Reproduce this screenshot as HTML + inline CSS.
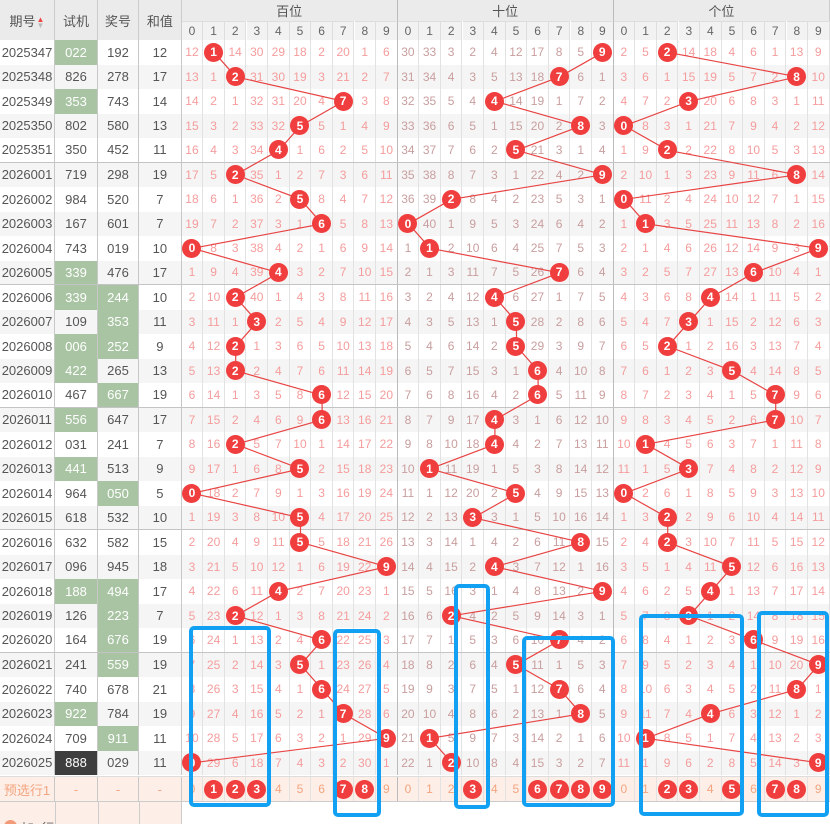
<!DOCTYPE html>
<html><head><meta charset="utf-8">
<style>
*{margin:0;padding:0;box-sizing:border-box}
body{width:830px;height:824px;overflow:hidden;background:#fff;font-family:"Liberation Sans","Noto Sans CJK SC",sans-serif;position:relative}
.h{position:absolute;background:#ebebeb;color:#555;font-size:13px;display:flex;align-items:center;justify-content:center;border-right:1px solid #ccc}
.hd{position:absolute;top:21px;height:19px;width:21.6px;background:#f2f2f2;color:#666;font-size:12px;display:flex;align-items:center;justify-content:center;border-right:1px solid #ddd;border-top:1px solid #ddd}
#d{position:absolute;left:0;top:40px;width:830px}
.r{display:grid;grid-template-columns:55px 43px 41px 42.7px repeat(30,21.6px);height:24.5px}
#d .r:nth-child(even){background:#f5f5f5}
.r.sep{border-bottom:1px solid #c4c4c4}
c{display:flex;align-items:center;justify-content:center;font-size:12px;color:#f59c9c;border-right:1px solid #e2e2e2;position:relative;height:100%}
c:nth-child(-n+4){font-size:13px;color:#555;border-right:1px solid #c8c8c8}
c:nth-child(n+15):nth-child(-n+24){color:#c99e9e}
c:nth-child(14),c:nth-child(24){border-right:1px solid #bbb}
c.g{background:#a8c4a2;color:#fff}
c.k{background:#3e3e3e;color:#fff}
i{position:absolute;left:50%;top:50%;width:19px;height:19px;margin:-9.5px 0 0 -9.5px;border-radius:50%;background:#f03d3d;color:#fff;font-style:normal;font-weight:bold;font-size:12px;display:flex;align-items:center;justify-content:center;z-index:3}
#p{position:absolute;left:0;top:776px;width:830px;height:26px;background:#fdeee8;border-top:1px solid #ddd;border-bottom:1px solid #ccc}
#p.r{height:26px}
#p c{color:#f3a57f}
#p c:nth-child(-n+4){color:#f3a57f;font-size:13px}
svg{position:absolute;left:0;top:0}
</style></head><body>
<div class="h" style="left:0;top:0;width:55px;height:40px">期号<span style="font-size:8px;line-height:6px;margin-left:1px;color:#e44"><br>▲<br><span style="color:#bbb">▼</span></span></div>
<div class="h" style="left:55px;top:0;width:43px;height:40px">试机</div>
<div class="h" style="left:98px;top:0;width:41px;height:40px">奖号</div>
<div class="h" style="left:139px;top:0;width:42.7px;height:40px">和值</div>
<div class="h" style="left:181.7px;top:0;width:216px;height:21px;border-right:1px solid #bbb">百位</div>
<div class="h" style="left:397.7px;top:0;width:216px;height:21px;border-right:1px solid #bbb">十位</div>
<div class="h" style="left:613.7px;top:0;width:216.3px;height:21px">个位</div>
<div class="hd" style="left:181.7px">0</div><div class="hd" style="left:203.3px">1</div><div class="hd" style="left:224.9px">2</div><div class="hd" style="left:246.5px">3</div><div class="hd" style="left:268.1px">4</div><div class="hd" style="left:289.7px">5</div><div class="hd" style="left:311.3px">6</div><div class="hd" style="left:332.9px">7</div><div class="hd" style="left:354.5px">8</div><div class="hd" style="left:376.1px;border-right-color:#bbb">9</div>
<div class="hd" style="left:397.7px">0</div><div class="hd" style="left:419.3px">1</div><div class="hd" style="left:440.9px">2</div><div class="hd" style="left:462.5px">3</div><div class="hd" style="left:484.1px">4</div><div class="hd" style="left:505.7px">5</div><div class="hd" style="left:527.3px">6</div><div class="hd" style="left:548.9px">7</div><div class="hd" style="left:570.5px">8</div><div class="hd" style="left:592.1px;border-right-color:#bbb">9</div>
<div class="hd" style="left:613.7px">0</div><div class="hd" style="left:635.3px">1</div><div class="hd" style="left:656.9px">2</div><div class="hd" style="left:678.5px">3</div><div class="hd" style="left:700.1px">4</div><div class="hd" style="left:721.7px">5</div><div class="hd" style="left:743.3px">6</div><div class="hd" style="left:764.9px">7</div><div class="hd" style="left:786.5px">8</div><div class="hd" style="left:808.1px">9</div>

<div id="d">
<div class="r"><c>2025347</c><c class="g">022</c><c>192</c><c>12</c><c>12</c><c><i>1</i></c><c>14</c><c>30</c><c>29</c><c>18</c><c>2</c><c>20</c><c>1</c><c>6</c><c>30</c><c>33</c><c>3</c><c>2</c><c>4</c><c>12</c><c>17</c><c>8</c><c>5</c><c><i>9</i></c><c>2</c><c>5</c><c><i>2</i></c><c>14</c><c>18</c><c>4</c><c>6</c><c>1</c><c>13</c><c>9</c></div>
<div class="r"><c>2025348</c><c>826</c><c>278</c><c>17</c><c>13</c><c>1</c><c><i>2</i></c><c>31</c><c>30</c><c>19</c><c>3</c><c>21</c><c>2</c><c>7</c><c>31</c><c>34</c><c>4</c><c>3</c><c>5</c><c>13</c><c>18</c><c><i>7</i></c><c>6</c><c>1</c><c>3</c><c>6</c><c>1</c><c>15</c><c>19</c><c>5</c><c>7</c><c>2</c><c><i>8</i></c><c>10</c></div>
<div class="r"><c>2025349</c><c class="g">353</c><c>743</c><c>14</c><c>14</c><c>2</c><c>1</c><c>32</c><c>31</c><c>20</c><c>4</c><c><i>7</i></c><c>3</c><c>8</c><c>32</c><c>35</c><c>5</c><c>4</c><c><i>4</i></c><c>14</c><c>19</c><c>1</c><c>7</c><c>2</c><c>4</c><c>7</c><c>2</c><c><i>3</i></c><c>20</c><c>6</c><c>8</c><c>3</c><c>1</c><c>11</c></div>
<div class="r"><c>2025350</c><c>802</c><c>580</c><c>13</c><c>15</c><c>3</c><c>2</c><c>33</c><c>32</c><c><i>5</i></c><c>5</c><c>1</c><c>4</c><c>9</c><c>33</c><c>36</c><c>6</c><c>5</c><c>1</c><c>15</c><c>20</c><c>2</c><c><i>8</i></c><c>3</c><c><i>0</i></c><c>8</c><c>3</c><c>1</c><c>21</c><c>7</c><c>9</c><c>4</c><c>2</c><c>12</c></div>
<div class="r sep"><c>2025351</c><c>350</c><c>452</c><c>11</c><c>16</c><c>4</c><c>3</c><c>34</c><c><i>4</i></c><c>1</c><c>6</c><c>2</c><c>5</c><c>10</c><c>34</c><c>37</c><c>7</c><c>6</c><c>2</c><c><i>5</i></c><c>21</c><c>3</c><c>1</c><c>4</c><c>1</c><c>9</c><c><i>2</i></c><c>2</c><c>22</c><c>8</c><c>10</c><c>5</c><c>3</c><c>13</c></div>
<div class="r"><c>2026001</c><c>719</c><c>298</c><c>19</c><c>17</c><c>5</c><c><i>2</i></c><c>35</c><c>1</c><c>2</c><c>7</c><c>3</c><c>6</c><c>11</c><c>35</c><c>38</c><c>8</c><c>7</c><c>3</c><c>1</c><c>22</c><c>4</c><c>2</c><c><i>9</i></c><c>2</c><c>10</c><c>1</c><c>3</c><c>23</c><c>9</c><c>11</c><c>6</c><c><i>8</i></c><c>14</c></div>
<div class="r"><c>2026002</c><c>984</c><c>520</c><c>7</c><c>18</c><c>6</c><c>1</c><c>36</c><c>2</c><c><i>5</i></c><c>8</c><c>4</c><c>7</c><c>12</c><c>36</c><c>39</c><c><i>2</i></c><c>8</c><c>4</c><c>2</c><c>23</c><c>5</c><c>3</c><c>1</c><c><i>0</i></c><c>11</c><c>2</c><c>4</c><c>24</c><c>10</c><c>12</c><c>7</c><c>1</c><c>15</c></div>
<div class="r"><c>2026003</c><c>167</c><c>601</c><c>7</c><c>19</c><c>7</c><c>2</c><c>37</c><c>3</c><c>1</c><c><i>6</i></c><c>5</c><c>8</c><c>13</c><c><i>0</i></c><c>40</c><c>1</c><c>9</c><c>5</c><c>3</c><c>24</c><c>6</c><c>4</c><c>2</c><c>1</c><c><i>1</i></c><c>3</c><c>5</c><c>25</c><c>11</c><c>13</c><c>8</c><c>2</c><c>16</c></div>
<div class="r"><c>2026004</c><c>743</c><c>019</c><c>10</c><c><i>0</i></c><c>8</c><c>3</c><c>38</c><c>4</c><c>2</c><c>1</c><c>6</c><c>9</c><c>14</c><c>1</c><c><i>1</i></c><c>2</c><c>10</c><c>6</c><c>4</c><c>25</c><c>7</c><c>5</c><c>3</c><c>2</c><c>1</c><c>4</c><c>6</c><c>26</c><c>12</c><c>14</c><c>9</c><c>3</c><c><i>9</i></c></div>
<div class="r sep"><c>2026005</c><c class="g">339</c><c>476</c><c>17</c><c>1</c><c>9</c><c>4</c><c>39</c><c><i>4</i></c><c>3</c><c>2</c><c>7</c><c>10</c><c>15</c><c>2</c><c>1</c><c>3</c><c>11</c><c>7</c><c>5</c><c>26</c><c><i>7</i></c><c>6</c><c>4</c><c>3</c><c>2</c><c>5</c><c>7</c><c>27</c><c>13</c><c><i>6</i></c><c>10</c><c>4</c><c>1</c></div>
<div class="r"><c>2026006</c><c class="g">339</c><c class="g">244</c><c>10</c><c>2</c><c>10</c><c><i>2</i></c><c>40</c><c>1</c><c>4</c><c>3</c><c>8</c><c>11</c><c>16</c><c>3</c><c>2</c><c>4</c><c>12</c><c><i>4</i></c><c>6</c><c>27</c><c>1</c><c>7</c><c>5</c><c>4</c><c>3</c><c>6</c><c>8</c><c><i>4</i></c><c>14</c><c>1</c><c>11</c><c>5</c><c>2</c></div>
<div class="r"><c>2026007</c><c>109</c><c class="g">353</c><c>11</c><c>3</c><c>11</c><c>1</c><c><i>3</i></c><c>2</c><c>5</c><c>4</c><c>9</c><c>12</c><c>17</c><c>4</c><c>3</c><c>5</c><c>13</c><c>1</c><c><i>5</i></c><c>28</c><c>2</c><c>8</c><c>6</c><c>5</c><c>4</c><c>7</c><c><i>3</i></c><c>1</c><c>15</c><c>2</c><c>12</c><c>6</c><c>3</c></div>
<div class="r"><c>2026008</c><c class="g">006</c><c class="g">252</c><c>9</c><c>4</c><c>12</c><c><i>2</i></c><c>1</c><c>3</c><c>6</c><c>5</c><c>10</c><c>13</c><c>18</c><c>5</c><c>4</c><c>6</c><c>14</c><c>2</c><c><i>5</i></c><c>29</c><c>3</c><c>9</c><c>7</c><c>6</c><c>5</c><c><i>2</i></c><c>1</c><c>2</c><c>16</c><c>3</c><c>13</c><c>7</c><c>4</c></div>
<div class="r"><c>2026009</c><c class="g">422</c><c>265</c><c>13</c><c>5</c><c>13</c><c><i>2</i></c><c>2</c><c>4</c><c>7</c><c>6</c><c>11</c><c>14</c><c>19</c><c>6</c><c>5</c><c>7</c><c>15</c><c>3</c><c>1</c><c><i>6</i></c><c>4</c><c>10</c><c>8</c><c>7</c><c>6</c><c>1</c><c>2</c><c>3</c><c><i>5</i></c><c>4</c><c>14</c><c>8</c><c>5</c></div>
<div class="r sep"><c>2026010</c><c>467</c><c class="g">667</c><c>19</c><c>6</c><c>14</c><c>1</c><c>3</c><c>5</c><c>8</c><c><i>6</i></c><c>12</c><c>15</c><c>20</c><c>7</c><c>6</c><c>8</c><c>16</c><c>4</c><c>2</c><c><i>6</i></c><c>5</c><c>11</c><c>9</c><c>8</c><c>7</c><c>2</c><c>3</c><c>4</c><c>1</c><c>5</c><c><i>7</i></c><c>9</c><c>6</c></div>
<div class="r"><c>2026011</c><c class="g">556</c><c>647</c><c>17</c><c>7</c><c>15</c><c>2</c><c>4</c><c>6</c><c>9</c><c><i>6</i></c><c>13</c><c>16</c><c>21</c><c>8</c><c>7</c><c>9</c><c>17</c><c><i>4</i></c><c>3</c><c>1</c><c>6</c><c>12</c><c>10</c><c>9</c><c>8</c><c>3</c><c>4</c><c>5</c><c>2</c><c>6</c><c><i>7</i></c><c>10</c><c>7</c></div>
<div class="r"><c>2026012</c><c>031</c><c>241</c><c>7</c><c>8</c><c>16</c><c><i>2</i></c><c>5</c><c>7</c><c>10</c><c>1</c><c>14</c><c>17</c><c>22</c><c>9</c><c>8</c><c>10</c><c>18</c><c><i>4</i></c><c>4</c><c>2</c><c>7</c><c>13</c><c>11</c><c>10</c><c><i>1</i></c><c>4</c><c>5</c><c>6</c><c>3</c><c>7</c><c>1</c><c>11</c><c>8</c></div>
<div class="r"><c>2026013</c><c class="g">441</c><c>513</c><c>9</c><c>9</c><c>17</c><c>1</c><c>6</c><c>8</c><c><i>5</i></c><c>2</c><c>15</c><c>18</c><c>23</c><c>10</c><c><i>1</i></c><c>11</c><c>19</c><c>1</c><c>5</c><c>3</c><c>8</c><c>14</c><c>12</c><c>11</c><c>1</c><c>5</c><c><i>3</i></c><c>7</c><c>4</c><c>8</c><c>2</c><c>12</c><c>9</c></div>
<div class="r"><c>2026014</c><c>964</c><c class="g">050</c><c>5</c><c><i>0</i></c><c>18</c><c>2</c><c>7</c><c>9</c><c>1</c><c>3</c><c>16</c><c>19</c><c>24</c><c>11</c><c>1</c><c>12</c><c>20</c><c>2</c><c><i>5</i></c><c>4</c><c>9</c><c>15</c><c>13</c><c><i>0</i></c><c>2</c><c>6</c><c>1</c><c>8</c><c>5</c><c>9</c><c>3</c><c>13</c><c>10</c></div>
<div class="r sep"><c>2026015</c><c>618</c><c>532</c><c>10</c><c>1</c><c>19</c><c>3</c><c>8</c><c>10</c><c><i>5</i></c><c>4</c><c>17</c><c>20</c><c>25</c><c>12</c><c>2</c><c>13</c><c><i>3</i></c><c>3</c><c>1</c><c>5</c><c>10</c><c>16</c><c>14</c><c>1</c><c>3</c><c><i>2</i></c><c>2</c><c>9</c><c>6</c><c>10</c><c>4</c><c>14</c><c>11</c></div>
<div class="r"><c>2026016</c><c>632</c><c>582</c><c>15</c><c>2</c><c>20</c><c>4</c><c>9</c><c>11</c><c><i>5</i></c><c>5</c><c>18</c><c>21</c><c>26</c><c>13</c><c>3</c><c>14</c><c>1</c><c>4</c><c>2</c><c>6</c><c>11</c><c><i>8</i></c><c>15</c><c>2</c><c>4</c><c><i>2</i></c><c>3</c><c>10</c><c>7</c><c>11</c><c>5</c><c>15</c><c>12</c></div>
<div class="r"><c>2026017</c><c>096</c><c>945</c><c>18</c><c>3</c><c>21</c><c>5</c><c>10</c><c>12</c><c>1</c><c>6</c><c>19</c><c>22</c><c><i>9</i></c><c>14</c><c>4</c><c>15</c><c>2</c><c><i>4</i></c><c>3</c><c>7</c><c>12</c><c>1</c><c>16</c><c>3</c><c>5</c><c>1</c><c>4</c><c>11</c><c><i>5</i></c><c>12</c><c>6</c><c>16</c><c>13</c></div>
<div class="r"><c>2026018</c><c class="g">188</c><c class="g">494</c><c>17</c><c>4</c><c>22</c><c>6</c><c>11</c><c><i>4</i></c><c>2</c><c>7</c><c>20</c><c>23</c><c>1</c><c>15</c><c>5</c><c>16</c><c>3</c><c>1</c><c>4</c><c>8</c><c>13</c><c>2</c><c><i>9</i></c><c>4</c><c>6</c><c>2</c><c>5</c><c><i>4</i></c><c>1</c><c>13</c><c>7</c><c>17</c><c>14</c></div>
<div class="r"><c>2026019</c><c>126</c><c class="g">223</c><c>7</c><c>5</c><c>23</c><c><i>2</i></c><c>12</c><c>1</c><c>3</c><c>8</c><c>21</c><c>24</c><c>2</c><c>16</c><c>6</c><c><i>2</i></c><c>4</c><c>2</c><c>5</c><c>9</c><c>14</c><c>3</c><c>1</c><c>5</c><c>7</c><c>8</c><c><i>3</i></c><c>1</c><c>2</c><c>14</c><c>8</c><c>18</c><c>15</c></div>
<div class="r sep"><c>2026020</c><c>164</c><c class="g">676</c><c>19</c><c>6</c><c>24</c><c>1</c><c>13</c><c>2</c><c>4</c><c><i>6</i></c><c>22</c><c>25</c><c>3</c><c>17</c><c>7</c><c>1</c><c>5</c><c>3</c><c>6</c><c>10</c><c><i>7</i></c><c>4</c><c>2</c><c>6</c><c>8</c><c>4</c><c>1</c><c>2</c><c>3</c><c><i>6</i></c><c>9</c><c>19</c><c>16</c></div>
<div class="r"><c>2026021</c><c>241</c><c class="g">559</c><c>19</c><c>7</c><c>25</c><c>2</c><c>14</c><c>3</c><c><i>5</i></c><c>1</c><c>23</c><c>26</c><c>4</c><c>18</c><c>8</c><c>2</c><c>6</c><c>4</c><c><i>5</i></c><c>11</c><c>1</c><c>5</c><c>3</c><c>7</c><c>9</c><c>5</c><c>2</c><c>3</c><c>4</c><c>1</c><c>10</c><c>20</c><c><i>9</i></c></div>
<div class="r"><c>2026022</c><c>740</c><c>678</c><c>21</c><c>8</c><c>26</c><c>3</c><c>15</c><c>4</c><c>1</c><c><i>6</i></c><c>24</c><c>27</c><c>5</c><c>19</c><c>9</c><c>3</c><c>7</c><c>5</c><c>1</c><c>12</c><c><i>7</i></c><c>6</c><c>4</c><c>8</c><c>10</c><c>6</c><c>3</c><c>4</c><c>5</c><c>2</c><c>11</c><c><i>8</i></c><c>1</c></div>
<div class="r"><c>2026023</c><c class="g">922</c><c>784</c><c>19</c><c>9</c><c>27</c><c>4</c><c>16</c><c>5</c><c>2</c><c>1</c><c><i>7</i></c><c>28</c><c>6</c><c>20</c><c>10</c><c>4</c><c>8</c><c>6</c><c>2</c><c>13</c><c>1</c><c><i>8</i></c><c>5</c><c>9</c><c>11</c><c>7</c><c>4</c><c><i>4</i></c><c>6</c><c>3</c><c>12</c><c>1</c><c>2</c></div>
<div class="r"><c>2026024</c><c>709</c><c class="g">911</c><c>11</c><c>10</c><c>28</c><c>5</c><c>17</c><c>6</c><c>3</c><c>2</c><c>1</c><c>29</c><c><i>9</i></c><c>21</c><c><i>1</i></c><c>5</c><c>9</c><c>7</c><c>3</c><c>14</c><c>2</c><c>1</c><c>6</c><c>10</c><c><i>1</i></c><c>8</c><c>5</c><c>1</c><c>7</c><c>4</c><c>13</c><c>2</c><c>3</c></div>
<div class="r"><c>2026025</c><c class="k">888</c><c>029</c><c>11</c><c><i>0</i></c><c>29</c><c>6</c><c>18</c><c>7</c><c>4</c><c>3</c><c>2</c><c>30</c><c>1</c><c>22</c><c>1</c><c><i>2</i></c><c>10</c><c>8</c><c>4</c><c>15</c><c>3</c><c>2</c><c>7</c><c>11</c><c>1</c><c>9</c><c>6</c><c>2</c><c>8</c><c>5</c><c>14</c><c>3</c><c><i>9</i></c></div>
</div>
<div id="p" class="r"><c>预选行1</c><c>-</c><c>-</c><c>-</c><c>0</c><c><i>1</i></c><c><i>2</i></c><c><i>3</i></c><c>4</c><c>5</c><c>6</c><c><i>7</i></c><c><i>8</i></c><c>9</c><c>0</c><c>1</c><c>2</c><c><i>3</i></c><c>4</c><c>5</c><c><i>6</i></c><c><i>7</i></c><c><i>8</i></c><c><i>9</i></c><c>0</c><c>1</c><c><i>2</i></c><c><i>3</i></c><c>4</c><c><i>5</i></c><c>6</c><c><i>7</i></c><c><i>8</i></c><c>9</c></div>
<div style="position:absolute;left:0;top:802px;width:181.7px;height:22px;background:#fdeee8;overflow:hidden">
<div style="position:absolute;left:55px;top:0;width:1px;height:22px;background:#ccc"></div>
<div style="position:absolute;left:98px;top:0;width:1px;height:22px;background:#ccc"></div>
<div style="position:absolute;left:139px;top:0;width:1px;height:22px;background:#ccc"></div>
<div style="position:absolute;left:181px;top:0;width:1px;height:22px;background:#ccc"></div>
<div style="position:absolute;left:4px;top:18px;width:13px;height:13px;border-radius:50%;background:#f39a78"></div>
<div style="position:absolute;left:21px;top:16px;font-size:13px;color:#666">加1行</div>
</div>
<svg width="830" height="824" style="z-index:2" fill="none" stroke="#e84444" stroke-width="1.2">
<polyline points="214.1,52.3 235.7,76.8 343.7,101.3 300.5,125.8 278.9,150.3 235.7,174.8 300.5,199.3 322.1,223.8 192.5,248.3 278.9,272.8 235.7,297.3 257.3,321.8 235.7,346.3 235.7,370.8 322.1,395.3 322.1,419.8 235.7,444.3 300.5,468.8 192.5,493.3 300.5,517.8 300.5,542.3 386.9,566.8 278.9,591.3 235.7,615.8 322.1,640.3 300.5,664.8 322.1,689.3 343.7,713.8 386.9,738.3 192.5,762.8"/>
<polyline points="602.9,52.3 559.7,76.8 494.9,101.3 581.3,125.8 516.5,150.3 602.9,174.8 451.7,199.3 408.5,223.8 430.1,248.3 559.7,272.8 494.9,297.3 516.5,321.8 516.5,346.3 538.1,370.8 538.1,395.3 494.9,419.8 494.9,444.3 430.1,468.8 516.5,493.3 473.3,517.8 581.3,542.3 494.9,566.8 602.9,591.3 451.7,615.8 559.7,640.3 516.5,664.8 559.7,689.3 581.3,713.8 430.1,738.3 451.7,762.8"/>
<polyline points="667.7,52.3 797.3,76.8 689.3,101.3 624.5,125.8 667.7,150.3 797.3,174.8 624.5,199.3 646.1,223.8 818.9,248.3 754.1,272.8 710.9,297.3 689.3,321.8 667.7,346.3 732.5,370.8 775.7,395.3 775.7,419.8 646.1,444.3 689.3,468.8 624.5,493.3 667.7,517.8 667.7,542.3 732.5,566.8 710.9,591.3 689.3,615.8 754.1,640.3 818.9,664.8 797.3,689.3 710.9,713.8 646.1,738.3 818.9,762.8"/>
</svg>
<svg width="830" height="824" style="z-index:5" fill="none" stroke="#12a0f2" stroke-width="4">
<rect x="191" y="628" width="78" height="177" rx="3"/>
<rect x="335" y="631" width="44" height="184" rx="3"/>
<rect x="456" y="586" width="32" height="221" rx="3"/>
<rect x="524" y="638" width="89" height="167" rx="3"/>
<rect x="641" y="616" width="101" height="198" rx="3"/>
<rect x="759" y="613" width="68" height="202" rx="3"/>
</svg>
</body></html>
